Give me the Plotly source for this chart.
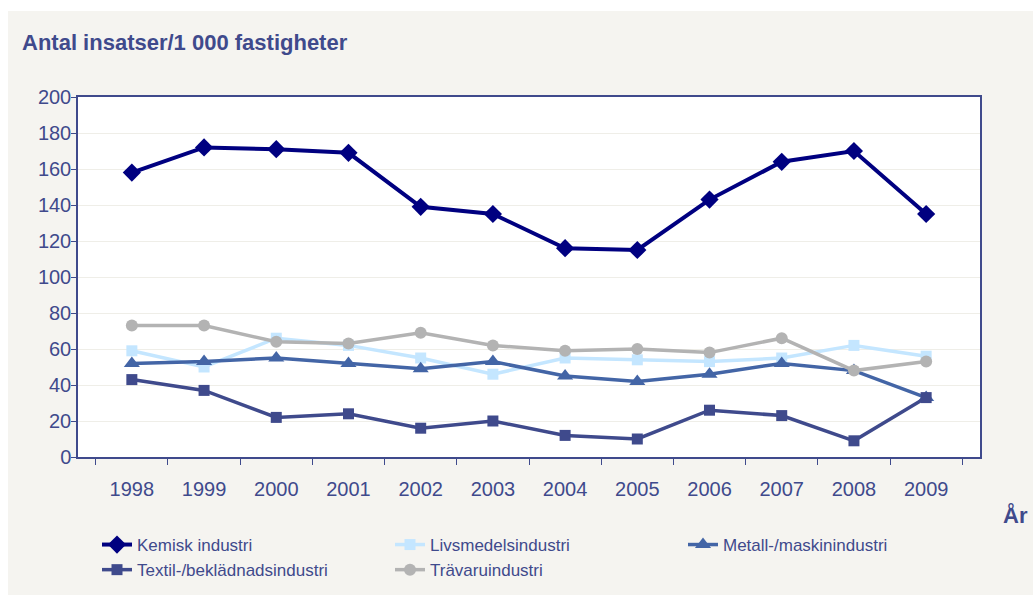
import plotly.graph_objects as go

years = ["1998", "1999", "2000", "2001", "2002", "2003", "2004", "2005", "2006", "2007", "2008", "2009"]
kemisk = [158, 172, 171, 169, 139, 135, 116, 115, 143, 164, 170, 135]
livsmedel = [59, 50, 66, 62, 55, 46, 55, 54, 53, 55, 62, 56]
metall = [52, 53, 55, 52, 49, 53, 45, 42, 46, 52, 48, 33]
textil = [43, 37, 22, 24, 16, 20, 12, 10, 26, 23, 9, 33]
travaru = [73, 73, 64, 63, 69, 62, 59, 60, 58, 66, 48, 53]

series = [
    ("Kemisk industri", kemisk, "#000080", "diamond", 14, 4),
    ("Livsmedelsindustri", livsmedel, "#C4E6FF", "square", 11, 3.5),
    ("Metall-/maskinindustri", metall, "#4365A6", "triangle-up", 14, 3.5),
    ("Textil-/beklädnadsindustri", textil, "#3F4A8C", "square", 11, 3.5),
    ("Trävaruindustri", travaru, "#B3B3B3", "circle", 12, 3.5),
]

FONT = "Liberation Sans, Arial, sans-serif"
TXT = "#3F4A8C"

fig = go.Figure()
for name, vals, col, sym, sz, lw in series:
    fig.add_trace(go.Scatter(
        x=years, y=vals, name=name, mode="lines+markers",
        line=dict(color=col, width=lw),
        marker=dict(color=col, symbol=sym, size=sz),
    ))

W, H = 1033, 595
L, R, T, B = 78, 53, 97, 138
pw, ph = W - L - R, H - T - B

fig.update_layout(
    width=W, height=H,
    margin=dict(l=L, r=R, t=T, b=B, autoexpand=False),
    paper_bgcolor="#F5F4F0",
    plot_bgcolor="#FFFFFF",
    font=dict(family=FONT, color=TXT, size=17),
    title=dict(text="<b>Antal insatser/1 000 fastigheter</b>",
               x=22 / W, xref="container", xanchor="left",
               y=1 - 42 / H, yref="container", yanchor="middle",
               font=dict(size=22, color=TXT, family=FONT)),
    showlegend=True,
    legend=dict(orientation="h", x=(97 - L) / pw, xanchor="left",
                y=-(527 - T - ph) / ph, yanchor="top",
                entrywidth=248, entrywidthmode="pixels",
                font=dict(size=17, color=TXT, family=FONT),
                bgcolor="rgba(0,0,0,0)", tracegroupgap=0),
    xaxis=dict(type="category", showline=True, linecolor="#3F4A8C", linewidth=1.5,
               mirror=True, ticks="outside", tickson="boundaries", ticklen=6,
               tickcolor="#3F4A8C", showgrid=False, ticklabelstandoff=13,
               tickfont=dict(size=20, color=TXT, family=FONT)),
    yaxis=dict(range=[0, 200], dtick=20, showline=True, linecolor="#3F4A8C", linewidth=1.5,
               mirror=True, ticks="outside", ticklen=5, tickcolor="#3F4A8C",
               gridcolor="#EFEEE8", gridwidth=1, zeroline=False, ticklabelstandoff=-4,
               tickfont=dict(size=20, color=TXT, family=FONT)),
    annotations=[dict(text="<b>År</b>", xref="paper", yref="paper",
                      x=(1015 - L) / pw, y=-(515 - T - ph) / ph,
                      xanchor="center", yanchor="middle", showarrow=False,
                      font=dict(size=22, color=TXT, family=FONT))],
    shapes=[
        dict(type="rect", xref="paper", yref="paper", layer="below",
             x0=-L / pw, x1=(W - L) / pw, y0=1 + (T - 11) / ph, y1=1 + T / ph,
             fillcolor="#FFFFFF", line=dict(width=0)),
        dict(type="rect", xref="paper", yref="paper", layer="below",
             x0=-L / pw, x1=(8 - L) / pw, y0=-B / ph, y1=1 + T / ph,
             fillcolor="#FFFFFF", line=dict(width=0)),
    ],
)

fig.write_html("out.html", config={"displayModeBar": False},
               post_script="document.body.style.margin='0';document.body.style.overflow='hidden';")
